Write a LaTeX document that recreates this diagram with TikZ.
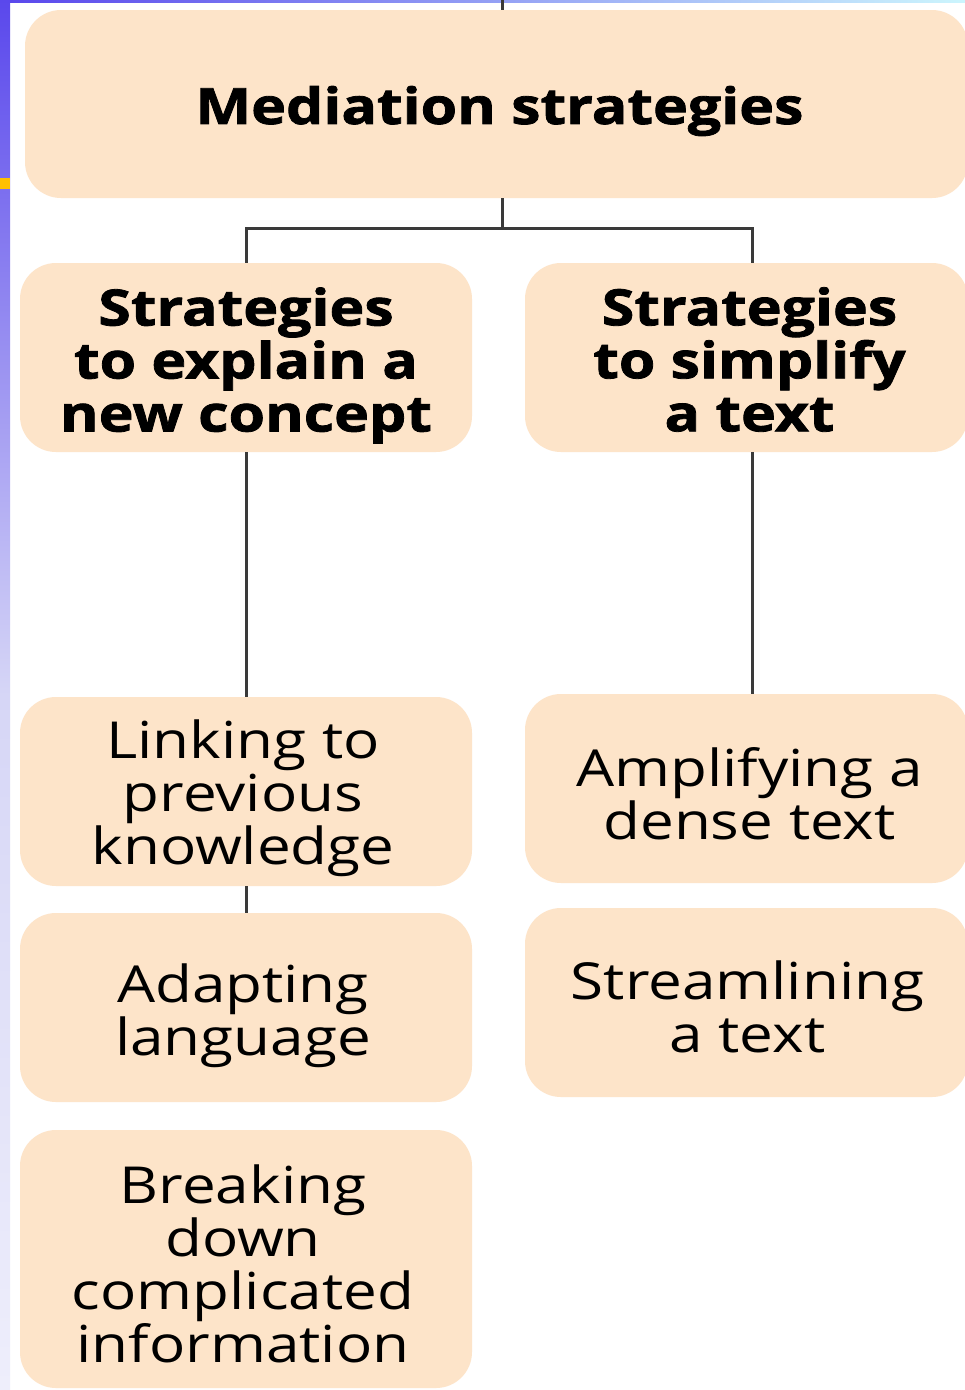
\documentclass[tikz,border=0pt]{standalone}
\usepackage{fontspec}
\setmainfont{Open Sans}[FakeStretch=1.18, BoldFeatures={FakeBold=1.6}]
\definecolor{peach}{HTML}{FDE4C9}
\definecolor{conn}{HTML}{3A3A3A}
\definecolor{edgeA}{HTML}{5A48EC}
\definecolor{edgeB}{HTML}{D6D6F6}
\definecolor{edgeC}{HTML}{EEEEFB}
\definecolor{tab}{HTML}{FFC000}
\begin{document}
\begin{tikzpicture}[x=1pt,y=-1pt,
  box/.style={fill=peach, rounded corners=36pt, inner sep=0pt},
  txt/.style={align=center, inner sep=0pt, font=\fontsize{51}{53}\selectfont},
  headtxt/.style={txt, font=\fontsize{50}{53}\selectfont\bfseries},
  link/.style={draw=conn, line width=3pt}]
\useasboundingbox (0,0) rectangle (965,1390);
\clip (0,0) rectangle (965,1390);
\fill[white] (0,0) rectangle (965,1390);

% slide background peeking in at the edges
\shade[top color=edgeA, bottom color=edgeC, middle color=edgeB] (0,0) rectangle (10,1390);
\fill[tab] (0,178) rectangle (10,189);
\shade[left color=edgeA, right color=edgeB!60!cyan!40] (10,0) rectangle (965,2.5);

% boxes
\node[box, minimum width=943pt, minimum height=188pt] (top) at (496.5,104) {};
\node[box, minimum width=452pt, minimum height=189pt] (mleft) at (246,357.5) {};
\node[box, minimum width=443pt, minimum height=189pt] (mright) at (746.5,357.5) {};
\node[box, minimum width=452pt, minimum height=189pt] (linking) at (246,791.5) {};
\node[box, minimum width=443pt, minimum height=189pt] (ampl) at (746.5,788.5) {};
\node[box, minimum width=452pt, minimum height=189pt] (adapt) at (246,1007.5) {};
\node[box, minimum width=443pt, minimum height=189pt] (stream) at (746.5,1002.5) {};
\node[box, minimum width=452pt, minimum height=258pt] (breaking) at (246,1259) {};

% box texts
\node[headtxt] (top-t) at ([shift={(3,7)}]top.center) {Mediation strategies};
\node[headtxt] (mleft-t) at ([shift={(0,8)}]mleft.center) {Strategies\\to explain a\\new concept};
\node[headtxt] (mright-t) at ([shift={(3,2)}]mright.center) {Strategies\\to simplify\\a text};
\node[txt] (linking-t) at ([shift={(-3,7)}]linking.center) {Linking to\\previous\\knowledge};
\node[txt] (ampl-t) at ([shift={(3,5)}]ampl.center) {Amplifying a\\dense text};
\node[txt] (adapt-t) at ([shift={(-3,8)}]adapt.center) {Adapting\\language};
\node[txt] (stream-t) at ([shift={(1,4)}]stream.center) {Streamlining\\a text};
\node[txt] (breaking-t) at ([shift={(-3,5)}]breaking.center) {Breaking\\down\\complicated\\information};

% connectors
\coordinate (stub) at (502,0);
\coordinate (bus) at (502,228);
\coordinate (rcol) at (752,0);
\draw[link] (stub) -- (stub |- top.north);
\draw[link] (bus |- top.south) -- (bus);
\draw[link] (mleft.north) |- (bus) -| (rcol |- mright.north);
\draw[link] (mleft.south) -- (linking.north);
\draw[link] (rcol |- mright.south) -- (rcol |- ampl.north);
\draw[link] (linking.south) -- (adapt.north);
\end{tikzpicture}
\end{document}
